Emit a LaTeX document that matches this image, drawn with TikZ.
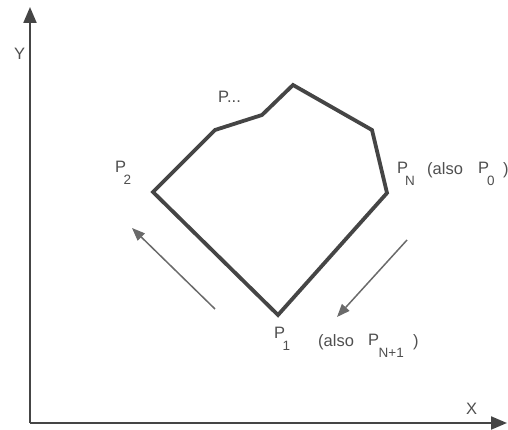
\documentclass[tikz,border=0pt]{standalone}
\usepackage{fontspec}
\setmainfont{Liberation Sans}
\usetikzlibrary{arrows.meta}
\definecolor{inkc}{HTML}{454545}
\definecolor{txtc}{HTML}{4F4F4F}
\definecolor{arrc}{HTML}{6A6A6A}
\newcommand\PSub[2]{P\kern#1pt\raisebox{-12pt}{\fontsize{13.5}{13.5}\selectfont #2}}
\tikzset{
  axis/.style={draw=inkc, line width=2pt, -{Triangle[width=13pt,length=16pt]}},
  poly/.style={draw=inkc, line width=3.8pt, line join=miter},
  dirarrow/.style={draw=arrc, line width=1.5pt, -{Triangle[width=10pt,length=13pt]}},
  lbl/.style={anchor=base west, inner sep=0pt, text=txtc, font=\fontsize{16.5}{16.5}\selectfont},
}
\begin{document}
\begin{tikzpicture}[x=1pt,y=1pt]
\useasboundingbox (0,0) rectangle (508,430);
% axes
\coordinate (O) at (30,7);
\coordinate (Ytop) at (30,423);
\coordinate (Xend) at (507,7);
\draw[axis] (O) -- (Ytop);
\draw[axis] (O) -- (Xend);
\node[lbl] (ylab) at (14,370) {Y};
\node[lbl] (xlab) at (466,15) {X};
% polygon vertices
\coordinate (p1) at (278,115);
\coordinate (pn) at (387,237);
\coordinate (v3) at (372,300);
\coordinate (v4) at (293,345);
\coordinate (v5) at (262,315);
\coordinate (v6) at (215,300);
\coordinate (p2) at (153,238);
\draw[poly] (p1) -- (pn) -- (v3) -- (v4) -- (v5) -- (v6) -- (p2) -- cycle;
% direction arrows
\coordinate (a1s) at (215,121);
\coordinate (a1e) at (132,202);
\coordinate (a2s) at (407,190);
\coordinate (a2e) at (337,113);
\draw[dirarrow] (a1s) -- (a1e);
\draw[dirarrow] (a2s) -- (a2e);
% labels
\node[lbl] (pdots) at (218,327) {P...};
\node[lbl] (lp2) at (115,257) {\PSub{-2.5}{2}};
\node[lbl] (lpn) at (397,256) {\PSub{-3}{N}};
\node[lbl] (also1) at (427,255) {(also};
\node[lbl] (lp0) at (478,256) {\PSub{-2}{0}};
\node[lbl] (cl1) at (503,255) {)};
\node[lbl] (lp1) at (274,91) {\PSub{-2.5}{1}};
\node[lbl] (also2) at (318,83) {(also};
\node[lbl] (lpn1) at (368,84) {\PSub{-0.5}{N+1}};
\node[lbl] (cl2) at (413,83) {)};
\end{tikzpicture}
\end{document}
